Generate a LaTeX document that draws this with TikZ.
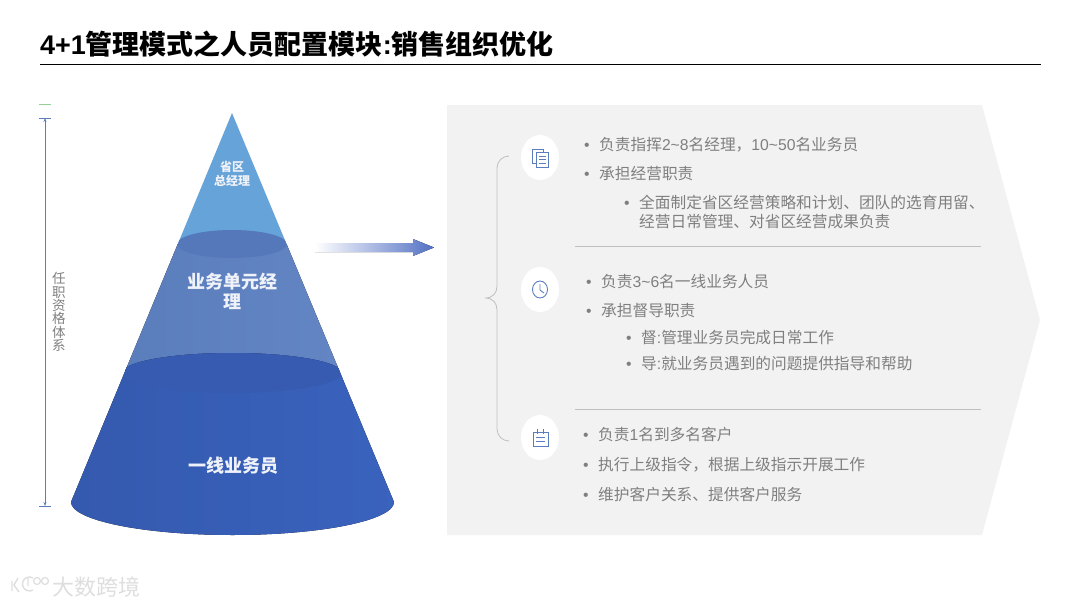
\documentclass[tikz,border=0pt]{standalone}
\usepackage{fontspec}
\setmainfont{Noto Sans CJK SC}
\newfontfamily\latfont{Liberation Sans}
\usetikzlibrary{arrows.meta,positioning}
\definecolor{topblue}{HTML}{66A3D9}
\definecolor{midleft}{HTML}{5A7DBC}
\definecolor{midright}{HTML}{6385C3}
\definecolor{midoval}{HTML}{5578BA}
\definecolor{lowleft}{HTML}{3459AE}
\definecolor{lowright}{HTML}{3A63BE}
\definecolor{lowoval}{HTML}{365BB0}
\definecolor{iconblue}{HTML}{5B7DBE}
\definecolor{bodygray}{HTML}{7F7F7F}
\definecolor{rulegray}{HTML}{BFBFBF}
\definecolor{panelgray}{HTML}{F2F2F2}
\definecolor{markgray}{HTML}{DEDEDE}
\newcommand{\lat}[1]{{\latfont #1}}
\newcommand{\til}{\lat{\textasciitilde}}
\newcommand{\bul}{\makebox[15pt][l]{\lat{\textbullet}}}
\begin{document}
\begin{tikzpicture}[
    x=1pt, y=-1pt,
    item/.style={anchor=west, inner sep=0pt, text=bodygray, align=left, font=\fontsize{15.7}{19}\selectfont},
    level/.style={inner sep=0pt, text=white!90!iconblue, align=center, font=\bfseries\fontsize{18}{20}\selectfont},
    dot/.style={fill=white, x radius=19, y radius=22.5},
    icon/.style={draw=iconblue, line width=0.9pt},
    sep/.style={draw=rulegray, line width=0.8pt},
    link/.style={{Stealth[length=4pt,width=3pt]}-{Stealth[length=4pt,width=3pt]}, draw=iconblue, line width=0.8pt}
]
\useasboundingbox (0,0) rectangle (1080,608);

\node[anchor=west, inner sep=0pt, font=\bfseries\fontsize{27}{30}\selectfont] (title) at (40,44) {\lat{4+1}管理模式之人员配置模块\lat{:}销售组织优化};
\coordinate (titlea) at (40,64);
\coordinate (titleb) at (1041,64);
\draw[line width=1pt] (titlea) -- (titleb);

% cone
\begin{scope}
\clip (232,113) -- (71,502) arc[start angle=180, end angle=0, x radius=161.5, y radius=33] -- cycle;
\fill[topblue] (170,110) rectangle (295,245);
\fill[left color=midleft, right color=midright] (125,244) rectangle (340,374);
\fill[midoval] (232,244) ellipse [x radius=55, y radius=14];
\fill[left color=lowleft, right color=lowright] (60,540) -- (60,373) -- (122,373)
    arc[start angle=180, end angle=360, x radius=110, y radius=20] -- (404,373) -- (404,540) -- cycle;
\fill[lowoval] (232,373) ellipse [x radius=110, y radius=20];
\end{scope}
\node[level, font=\bfseries\fontsize{12}{14}\selectfont] (peak) at (232,174) {省区\\总经理};
\node[level] (unit) at (232,291) {业务单元经\\理};
\node[level] (front) at (233,466) {一线业务员};

% dimension at the left
\coordinate (dimtop) at (45,118);
\coordinate (dimbot) at (45,506);
\draw[link] (dimtop) -- (dimbot);
\draw[iconblue, line width=0.8pt] (39,118) -- (51,118) (39,506) -- (51,506);
\draw[green!40!gray!60, line width=0.8pt] (39,104.5) -- (51,104.5);
\node[inner sep=0pt, text=bodygray, align=center, font=\fontsize{13.5}{13.4}\selectfont] (ladder) at (59,312) {任\\职\\资\\格\\体\\系};

% panel and arrow
\fill[panelgray] (447,105) -- (982,105) -- (1040,320) -- (982,535) -- (447,535) -- cycle;
\fill[left color=white, right color=iconblue!90!blue] (315,243) -- (413,243) -- (413,239) -- (434,247.5) -- (413,256) -- (413,252) -- (315,252) -- cycle;

% brace
\draw[sep] (509,156) arc[start angle=270, end angle=180, radius=12] -- (497,286) .. controls (497,293) and (493,298) .. (485,298) .. controls (493,298) and (497,303) .. (497,310) -- (497,429) arc[start angle=180, end angle=90, radius=12];

\coordinate (sepa) at (575,246);
\coordinate (sepb) at (981,246);
\coordinate (sepc) at (575,409);
\coordinate (sepd) at (981,409);
\draw[sep] (sepa) -- (sepb);
\draw[sep] (sepc) -- (sepd);

\fill[dot] (540,157.5) ellipse [];
\fill[dot] (540,289.5) ellipse [];
\fill[dot] (540,437.5) ellipse [];

% icons
\draw[icon] (536,163) -- (532.5,163) -- (532.5,149) -- (543,149) -- (543,152);
\draw[icon, fill=white] (536,152) rectangle (548,167);
\draw[icon] (538.5,156) -- (545.5,156) (538.5,159.5) -- (545.5,159.5) (538.5,163) -- (545.5,163);
\draw[icon] (540,289.5) ellipse [x radius=7.5, y radius=8.5];
\draw[icon] (540,284) -- (540,290) -- (544,293);
\draw[icon] (533,432) rectangle (548,446);
\draw[icon] (537,429) -- (537,434) (543,429) -- (543,434) (536,437) -- (545,437) (536,441) -- (545,441);

% first block
\node[item] (a1) at (584,145) {\bul 负责指挥\lat{2}\til\lat{8}名经理，\lat{10}\til\lat{50}名业务员};
\node[item, below=29pt of a1.west, anchor=west] (a2) {\bul 承担经营职责};
\node[item, anchor=west] (a3) at (624,211.5) {\bul 全面制定省区经营策略和计划、团队的选育用留、\\\hspace*{15pt}经营日常管理、对省区经营成果负责};

% second block
\node[item] (b1) at (586,282) {\bul 负责\lat{3}\til\lat{6}名一线业务人员};
\node[item, below=29pt of b1.west, anchor=west] (b2) {\bul 承担督导职责};
\node[item] (b3) at (626,338) {\bul 督\lat{:}管理业务员完成日常工作};
\node[item, below=26pt of b3.west, anchor=west] (b4) {\bul 导\lat{:}就业务员遇到的问题提供指导和帮助};

% third block
\node[item] (c1) at (583,435) {\bul 负责\lat{1}名到多名客户};
\node[item, below=30pt of c1.west, anchor=west] (c2) {\bul 执行上级指令，根据上级指示开展工作};
\node[item, below=30pt of c2.west, anchor=west] (c3) {\bul 维护客户关系、提供客户服务};

% watermark
\node[anchor=west, inner sep=0pt, text=markgray, font=\fontsize{22}{24}\selectfont] (mark) at (52,587) {大数跨境};
\draw[markgray, line width=1.4pt] (12,581) -- (12,591) (18,578) -- (14,585) -- (19,592);
\draw[markgray, line width=1.4pt] (33,590) arc[start angle=60, end angle=300, radius=7];
\draw[markgray, line width=1.2pt] (28,577) -- (28,586) (37,581) circle [radius=3.5] (45,581) circle [radius=3.5];
\end{tikzpicture}
\end{document}
